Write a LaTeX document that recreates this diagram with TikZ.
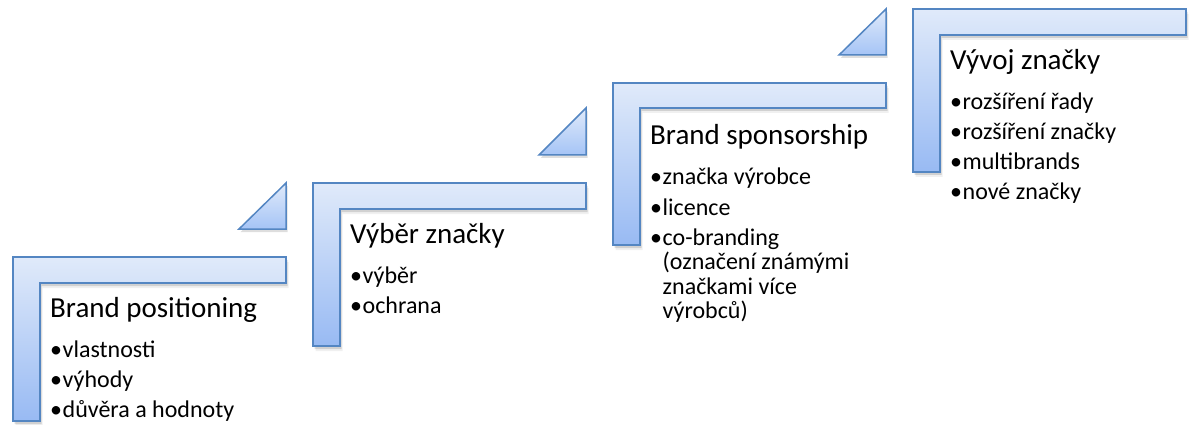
\documentclass[tikz,border=0pt]{standalone}
\usepackage{fontspec}
\setmainfont{Carlito}
\definecolor{bordc}{RGB}{84,134,194}
\definecolor{topc}{RGB}{224,234,250}
\definecolor{botc}{RGB}{152,186,243}
\definecolor{tribot}{RGB}{165,196,246}
\newcommand\bul{\makebox[12.5pt][l]{•}}
\newcommand\mystepL[6]{% L T R H V B
  \begin{scope}[shift={(1.5,3)}]
    \fill[shad] (#1,#2) -- (#3,#2) -- (#3,#4) -- (#5,#4) -- (#5,#6) -- (#1,#6) -- cycle;
  \end{scope}
  \begin{scope}[shift={(2.5,5)}]
    \fill[shad2] (#1,#2) -- (#3,#2) -- (#3,#4) -- (#5,#4) -- (#5,#6) -- (#1,#6) -- cycle;
  \end{scope}
  \path[stepshape] (#1,#2) -- (#3,#2) -- (#3,#4) -- (#5,#4) -- (#5,#6) -- (#1,#6) -- cycle;
}
\newcommand\mytri[3]{% left x, bottom y, top y ; right x = left+47
  \begin{scope}[shift={(1.5,3)}]
    \fill[shad] (#1,#2) -- ({#1+47},#2) -- ({#1+47},#3) -- cycle;
  \end{scope}
  \path[trishape] (#1,#2) -- ({#1+47},#2) -- ({#1+47},#3) -- cycle;
}
\begin{document}
\begin{tikzpicture}[x=1pt,y=-1pt,
  stepshape/.style={draw=bordc, line width=1.5pt, line join=miter, top color=topc, bottom color=botc},
  trishape/.style={draw=bordc, line width=1.5pt, line join=miter, top color=topc, bottom color=tribot},
  shad/.style={fill=black, opacity=0.13},
  shad2/.style={fill=black, opacity=0.06},
  ttl/.style={anchor=base west, inner sep=0pt, font=\fontsize{29}{34}\selectfont},
  itm/.style={anchor=base west, inner sep=0pt, font=\fontsize{24}{29}\selectfont}]
\useasboundingbox (0,0) rectangle (1192,425);

% shapes
\mystepL{13}{257}{286}{283}{40}{421}
\mystepL{313}{183}{586}{209}{340}{346}
\mystepL{613}{83}{886}{108}{640}{245}
\mystepL{913}{9}{1186}{35}{940}{172}
\mytri{239}{229}{183}
\mytri{539}{155}{108}
\mytri{839}{55}{9}

% step 1
\node[ttl] (t1) at (50,317) {Brand positioning};
\node[itm] (b1a) at (50,357) {\bul vlastnosti};
\node[itm] (b1b) at (50,387) {\bul výhody};
\node[itm] (b1c) at (50,417) {\bul důvěra a hodnoty};

% step 2
\node[ttl] (t2) at (350,243) {Výběr značky};
\node[itm] (b2a) at (350,283) {\bul výběr};
\node[itm] (b2b) at (350,313) {\bul ochrana};

% step 3
\node[ttl] (t3) at (650,145) {Brand sponsorship};
\node[itm] (b3a) at (650,185) {\bul značka výrobce};
\node[itm] (b3b) at (650,215) {\bul licence};
\node[itm] (b3c) at (650,245) {\bul co-branding};
\node[itm] (b3d) at (662.5,269.5) {(označení známými};
\node[itm] (b3e) at (662.5,294) {značkami více};
\node[itm] (b3f) at (662.5,318.5) {výrobců)};

% step 4
\node[ttl] (t4) at (950,70) {Vývoj značky};
\node[itm] (b4a) at (950,110) {\bul rozšíření řady};
\node[itm] (b4b) at (950,140) {\bul rozšíření značky};
\node[itm] (b4c) at (950,170) {\bul multibrands};
\node[itm] (b4d) at (950,200) {\bul nové značky};
\end{tikzpicture}
\end{document}
